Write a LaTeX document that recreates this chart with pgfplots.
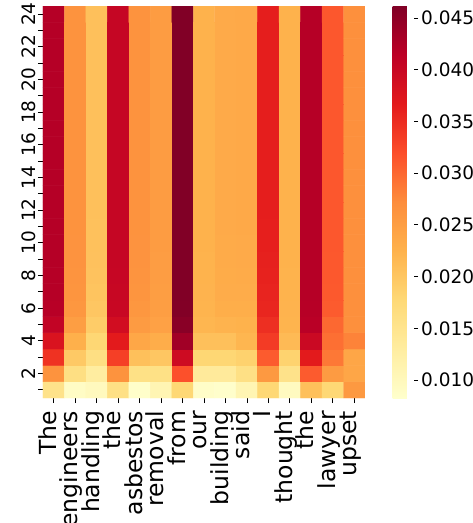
\documentclass[border=0pt]{standalone}
\usepackage{fontspec}
\setmainfont{DejaVu Sans}
\usepackage{pgfplots}
\pgfplotsset{compat=1.18}
\begin{document}
\begin{tikzpicture}
\useasboundingbox (-43pt,-125pt) rectangle (430pt,398pt);
\begin{axis}[
  at={(0pt,0pt)}, anchor=south west,
  scale only axis, width=322pt, height=392pt,
  xmin=-0.5, xmax=14.5, ymin=0.5, ymax=24.5,
  axis line style={draw=none},
  tick align=outside, major tick length=5pt, minor tick length=5pt,
  tick style={black, line width=0.8pt},
  xtick={0,...,14},
  xticklabels={The,engineers,handling,the,asbestos,removal,from,our,building,said,I,thought,the,lawyer,upset},
  xtick pos=bottom, ytick pos=left,
  ytick={2,4,...,24}, minor ytick={1,3,...,23},
  xticklabel style={rotate=90, anchor=east, font=\fontsize{23.5}{25}\selectfont, inner sep=0pt, outer sep=0pt, xshift=-8pt, text height=0.76em, text depth=0.24em},
  yticklabel style={rotate=90, anchor=south, font=\fontsize{18.5}{20}\selectfont, inner sep=2pt},
  /pgf/number format/assume math mode=true,
  colormap={ylorrd}{rgb255=(255,255,204) rgb255=(255,237,160) rgb255=(254,217,118) rgb255=(254,178,76) rgb255=(253,141,60) rgb255=(252,78,42) rgb255=(227,26,28) rgb255=(189,0,38) rgb255=(128,0,38)},
  point meta min=0.00826, point meta max=0.04616,
  colorbar,
  colorbar style={
    at={(parent axis.north east)}, anchor=north west, xshift=19pt,
    scale only axis, width=21pt, height=392pt,
    axis line style={draw=none},
    ytick={0.010,0.015,...,0.0451},
    scaled y ticks=false,
    yticklabel style={font=\fontsize{18.5}{20}\selectfont, inner sep=3pt, /pgf/number format/.cd, fixed, fixed zerofill, precision=3, assume math mode=true},
    tick align=outside, major tick length=4.5pt,
    tick style={black, line width=0.8pt},
    ytick pos=right,
  },
]
\addplot[matrix plot*, mesh/cols=15, mesh/rows=24, point meta=explicit] coordinates {
(0,1)[0.0155] (1,1)[0.0090] (2,1)[0.0098] (3,1)[0.0160] (4,1)[0.0085] (5,1)[0.0110] (6,1)[0.0178] (7,1)[0.0087] (8,1)[0.0084] (9,1)[0.0110] (10,1)[0.0178] (11,1)[0.0095] (12,1)[0.0208] (13,1)[0.0178] (14,1)[0.0257]

(0,2)[0.0265] (1,2)[0.0163] (2,2)[0.0130] (3,2)[0.0265] (4,2)[0.0159] (5,2)[0.0159] (6,2)[0.0318] (7,2)[0.0136] (8,2)[0.0136] (9,2)[0.0160] (10,2)[0.0257] (11,2)[0.0155] (12,2)[0.0310] (13,2)[0.0254] (14,2)[0.0240]

(0,3)[0.0345] (1,3)[0.0197] (2,3)[0.0163] (3,3)[0.0333] (4,3)[0.0208] (5,3)[0.0200] (6,3)[0.0394] (7,3)[0.0180] (8,3)[0.0180] (9,3)[0.0186] (10,3)[0.0310] (11,3)[0.0185] (12,3)[0.0367] (13,3)[0.0288] (14,3)[0.0240]

(0,4)[0.0380] (1,4)[0.0227] (2,4)[0.0180] (3,4)[0.0367] (4,4)[0.0239] (5,4)[0.0231] (6,4)[0.0436] (7,4)[0.0208] (8,4)[0.0208] (9,4)[0.0220] (10,4)[0.0337] (11,4)[0.0215] (12,4)[0.0398] (13,4)[0.0295] (14,4)[0.0280]

(0,5)[0.0408] (1,5)[0.0250] (2,5)[0.0193] (3,5)[0.0390] (4,5)[0.0254] (5,5)[0.0246] (6,5)[0.0455] (7,5)[0.0220] (8,5)[0.0223] (9,5)[0.0225] (10,5)[0.0348] (11,5)[0.0222] (12,5)[0.0417] (13,5)[0.0300] (14,5)[0.0268]

(0,6)[0.0418] (1,6)[0.0260] (2,6)[0.0200] (3,6)[0.0401] (4,6)[0.0260] (5,6)[0.0250] (6,6)[0.0460] (7,6)[0.0222] (8,6)[0.0230] (9,6)[0.0230] (10,6)[0.0356] (11,6)[0.0223] (12,6)[0.0419] (13,6)[0.0310] (14,6)[0.0268]

(0,7)[0.0420] (1,7)[0.0262] (2,7)[0.0203] (3,7)[0.0402] (4,7)[0.0262] (5,7)[0.0251] (6,7)[0.0461] (7,7)[0.0223] (8,7)[0.0232] (9,7)[0.0232] (10,7)[0.0358] (11,7)[0.0224] (12,7)[0.0420] (13,7)[0.0311] (14,7)[0.0268]

(0,8)[0.0420] (1,8)[0.0263] (2,8)[0.0205] (3,8)[0.0403] (4,8)[0.0263] (5,8)[0.0252] (6,8)[0.0461] (7,8)[0.0224] (8,8)[0.0233] (9,8)[0.0234] (10,8)[0.0360] (11,8)[0.0224] (12,8)[0.0420] (13,8)[0.0312] (14,8)[0.0268]

(0,9)[0.0421] (1,9)[0.0264] (2,9)[0.0206] (3,9)[0.0404] (4,9)[0.0264] (5,9)[0.0252] (6,9)[0.0461] (7,9)[0.0224] (8,9)[0.0234] (9,9)[0.0235] (10,9)[0.0361] (11,9)[0.0225] (12,9)[0.0420] (13,9)[0.0312] (14,9)[0.0268]

(0,10)[0.0421] (1,10)[0.0264] (2,10)[0.0207] (3,10)[0.0404] (4,10)[0.0264] (5,10)[0.0253] (6,10)[0.0461] (7,10)[0.0225] (8,10)[0.0234] (9,10)[0.0235] (10,10)[0.0362] (11,10)[0.0225] (12,10)[0.0420] (13,10)[0.0313] (14,10)[0.0268]

(0,11)[0.0421] (1,11)[0.0265] (2,11)[0.0207] (3,11)[0.0404] (4,11)[0.0265] (5,11)[0.0253] (6,11)[0.0461] (7,11)[0.0225] (8,11)[0.0235] (9,11)[0.0236] (10,11)[0.0362] (11,11)[0.0225] (12,11)[0.0420] (13,11)[0.0313] (14,11)[0.0268]

(0,12)[0.0421] (1,12)[0.0265] (2,12)[0.0208] (3,12)[0.0404] (4,12)[0.0265] (5,12)[0.0253] (6,12)[0.0461] (7,12)[0.0225] (8,12)[0.0235] (9,12)[0.0236] (10,12)[0.0363] (11,12)[0.0225] (12,12)[0.0420] (13,12)[0.0313] (14,12)[0.0268]

(0,13)[0.0421] (1,13)[0.0265] (2,13)[0.0208] (3,13)[0.0404] (4,13)[0.0265] (5,13)[0.0253] (6,13)[0.0461] (7,13)[0.0225] (8,13)[0.0235] (9,13)[0.0236] (10,13)[0.0363] (11,13)[0.0225] (12,13)[0.0420] (13,13)[0.0313] (14,13)[0.0268]

(0,14)[0.0421] (1,14)[0.0265] (2,14)[0.0208] (3,14)[0.0404] (4,14)[0.0265] (5,14)[0.0253] (6,14)[0.0461] (7,14)[0.0225] (8,14)[0.0235] (9,14)[0.0236] (10,14)[0.0363] (11,14)[0.0225] (12,14)[0.0420] (13,14)[0.0313] (14,14)[0.0268]

(0,15)[0.0421] (1,15)[0.0265] (2,15)[0.0208] (3,15)[0.0404] (4,15)[0.0265] (5,15)[0.0253] (6,15)[0.0461] (7,15)[0.0225] (8,15)[0.0235] (9,15)[0.0236] (10,15)[0.0363] (11,15)[0.0225] (12,15)[0.0420] (13,15)[0.0313] (14,15)[0.0268]

(0,16)[0.0421] (1,16)[0.0265] (2,16)[0.0208] (3,16)[0.0404] (4,16)[0.0265] (5,16)[0.0253] (6,16)[0.0461] (7,16)[0.0225] (8,16)[0.0235] (9,16)[0.0236] (10,16)[0.0363] (11,16)[0.0225] (12,16)[0.0420] (13,16)[0.0313] (14,16)[0.0268]

(0,17)[0.0421] (1,17)[0.0265] (2,17)[0.0208] (3,17)[0.0404] (4,17)[0.0265] (5,17)[0.0253] (6,17)[0.0461] (7,17)[0.0225] (8,17)[0.0235] (9,17)[0.0236] (10,17)[0.0363] (11,17)[0.0225] (12,17)[0.0420] (13,17)[0.0313] (14,17)[0.0268]

(0,18)[0.0421] (1,18)[0.0265] (2,18)[0.0208] (3,18)[0.0404] (4,18)[0.0265] (5,18)[0.0253] (6,18)[0.0461] (7,18)[0.0225] (8,18)[0.0235] (9,18)[0.0236] (10,18)[0.0363] (11,18)[0.0225] (12,18)[0.0420] (13,18)[0.0313] (14,18)[0.0268]

(0,19)[0.0421] (1,19)[0.0265] (2,19)[0.0208] (3,19)[0.0404] (4,19)[0.0265] (5,19)[0.0253] (6,19)[0.0461] (7,19)[0.0225] (8,19)[0.0235] (9,19)[0.0236] (10,19)[0.0363] (11,19)[0.0225] (12,19)[0.0420] (13,19)[0.0313] (14,19)[0.0268]

(0,20)[0.0421] (1,20)[0.0265] (2,20)[0.0208] (3,20)[0.0404] (4,20)[0.0265] (5,20)[0.0253] (6,20)[0.0461] (7,20)[0.0225] (8,20)[0.0235] (9,20)[0.0236] (10,20)[0.0363] (11,20)[0.0225] (12,20)[0.0420] (13,20)[0.0313] (14,20)[0.0268]

(0,21)[0.0421] (1,21)[0.0265] (2,21)[0.0208] (3,21)[0.0404] (4,21)[0.0265] (5,21)[0.0253] (6,21)[0.0461] (7,21)[0.0225] (8,21)[0.0235] (9,21)[0.0236] (10,21)[0.0363] (11,21)[0.0225] (12,21)[0.0420] (13,21)[0.0313] (14,21)[0.0268]

(0,22)[0.0421] (1,22)[0.0265] (2,22)[0.0208] (3,22)[0.0404] (4,22)[0.0265] (5,22)[0.0253] (6,22)[0.0461] (7,22)[0.0225] (8,22)[0.0235] (9,22)[0.0236] (10,22)[0.0363] (11,22)[0.0225] (12,22)[0.0420] (13,22)[0.0313] (14,22)[0.0268]

(0,23)[0.0421] (1,23)[0.0265] (2,23)[0.0208] (3,23)[0.0404] (4,23)[0.0265] (5,23)[0.0253] (6,23)[0.0461] (7,23)[0.0225] (8,23)[0.0235] (9,23)[0.0236] (10,23)[0.0363] (11,23)[0.0225] (12,23)[0.0420] (13,23)[0.0313] (14,23)[0.0268]

(0,24)[0.0421] (1,24)[0.0265] (2,24)[0.0208] (3,24)[0.0404] (4,24)[0.0265] (5,24)[0.0253] (6,24)[0.0461] (7,24)[0.0225] (8,24)[0.0235] (9,24)[0.0236] (10,24)[0.0363] (11,24)[0.0225] (12,24)[0.0420] (13,24)[0.0313] (14,24)[0.0268]
};
\end{axis}
\end{tikzpicture}
\end{document}
